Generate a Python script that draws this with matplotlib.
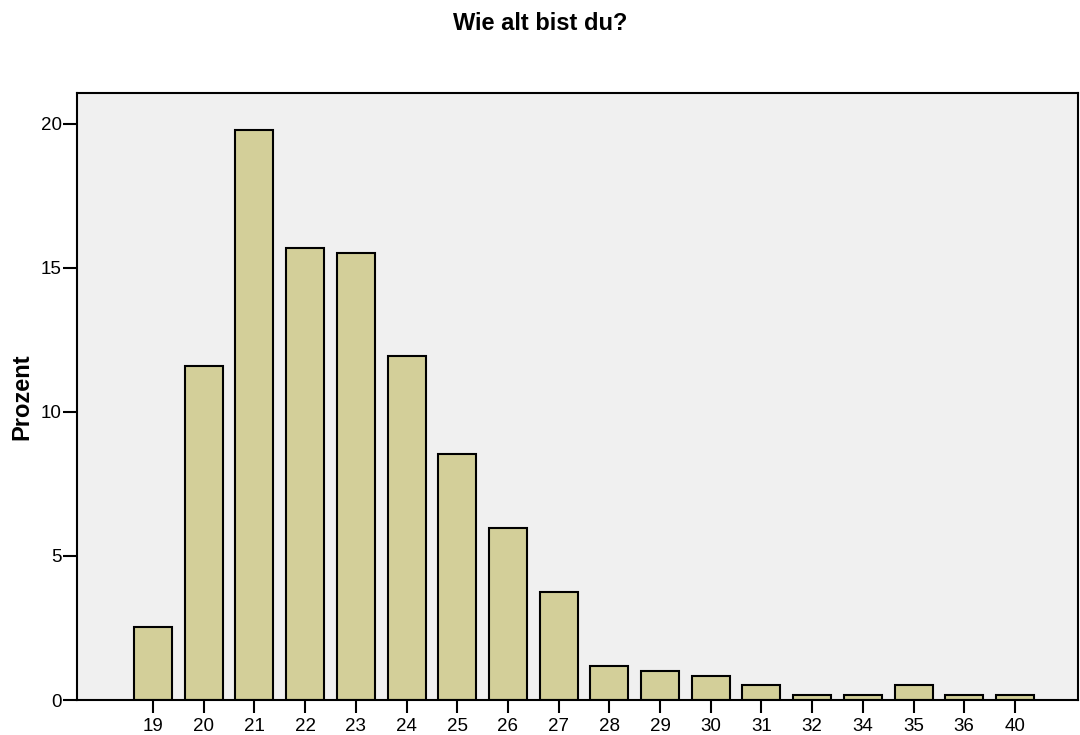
import matplotlib
matplotlib.use("Agg")
import matplotlib.pyplot as plt
import numpy as np

plt.rcParams['font.family'] = ['Liberation Sans', 'DejaVu Sans']

# Alter (Kategorien) und Anteil in Prozent
ages = ['19', '20', '21', '22', '23', '24', '25', '26', '27', '28',
        '29', '30', '31', '32', '34', '35', '36', '40']
percent = [2.55, 11.6, 19.8, 15.7, 15.53, 11.95, 8.53, 5.97, 3.75, 1.19,
           1.02, 0.85, 0.51, 0.17, 0.17, 0.51, 0.17, 0.17]

fig = plt.figure(figsize=(10.8, 7.35), dpi=100)
ax = fig.add_axes([0.0713, 0.0476, 0.9267, 0.8259])
ax.set_facecolor('#f0f0f0')

x = np.arange(len(ages))
ax.bar(x, percent, width=0.75, color='#d3cf99', edgecolor='black', linewidth=1.5)

ax.set_xlim(-1.5, len(ages) - 1 + 1.24)
ax.set_ylim(0, 21.07)
ax.set_xticks(x)
ax.set_xticklabels(ages)
ax.set_yticks([0, 5, 10, 15, 20])

for s in ax.spines.values():
    s.set_linewidth(1.5)
ax.tick_params(axis='x', length=9, width=1.5, labelsize=13.5, pad=4)
ax.tick_params(axis='y', length=10, width=1.5, labelsize=13.5, pad=1)

ax.set_ylabel('Prozent', fontsize=17, fontweight='bold')
ax.yaxis.set_label_coords(-0.044, 0.5)
fig.text(0.5, 0.968, 'Wie alt bist du?', fontsize=17, fontweight='bold',
         ha='center', va='center')

fig.savefig('out.png', dpi=100)
